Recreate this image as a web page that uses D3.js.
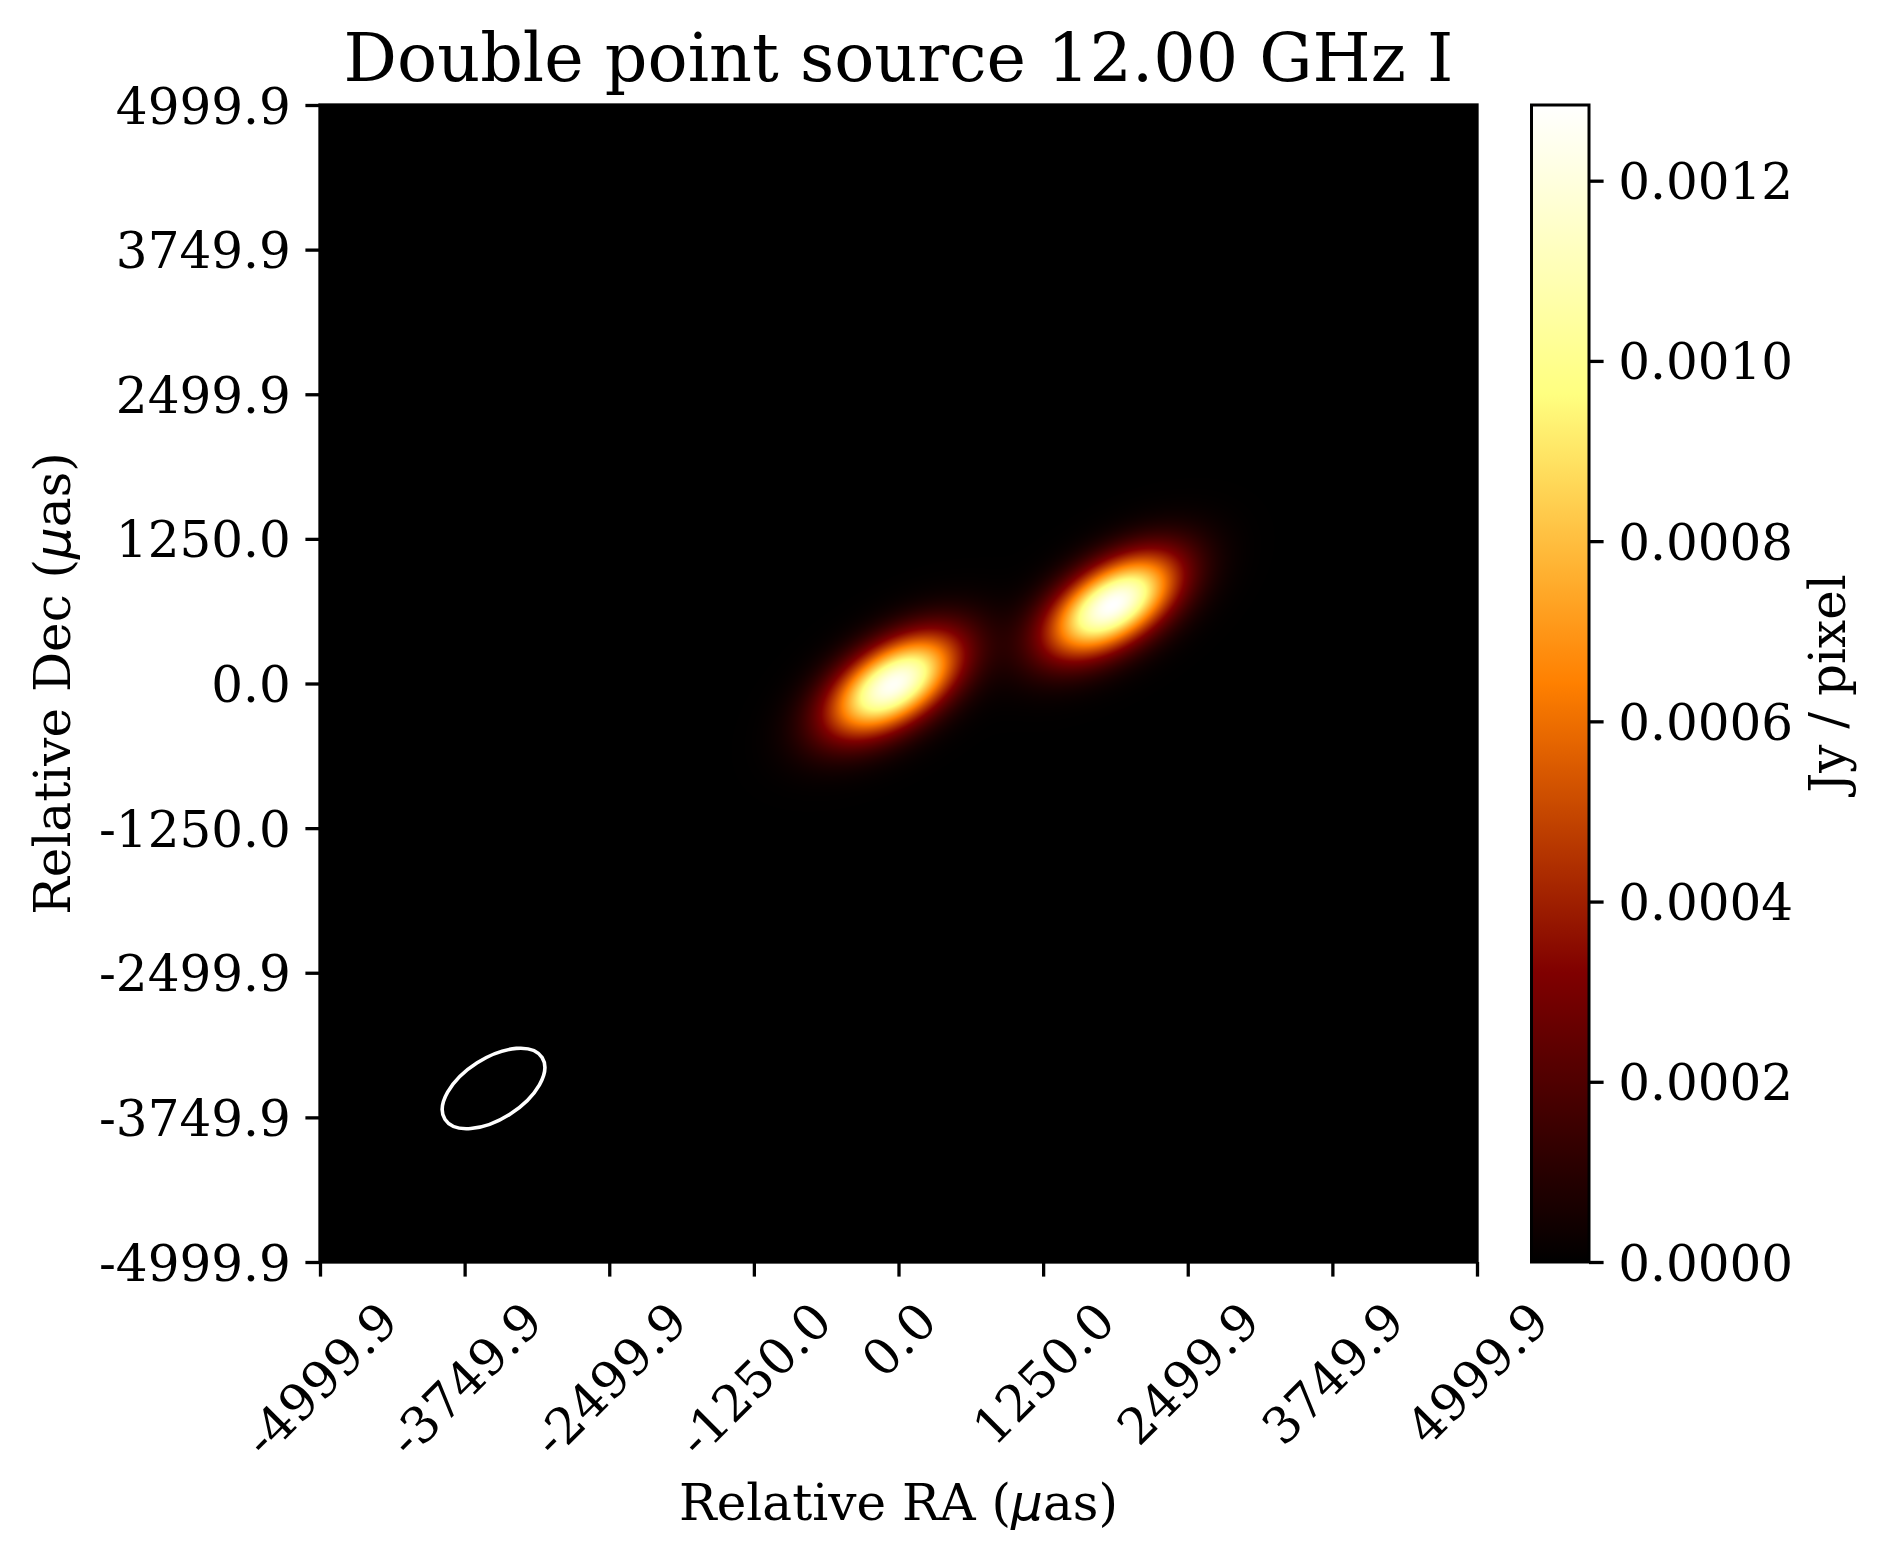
<!DOCTYPE html>
<html>
<head>
<meta charset="utf-8">
<script src="https://cdn.jsdelivr.net/npm/d3@7"></script>
<style>
  body { margin: 0; background: #fff; }
  svg text { font-family: "DejaVu Serif", serif; fill: #000; }
</style>
</head>
<body>
<div id="chart"></div>
<script>
// point components: relative RA / Dec (μas) and peak brightness (Jy/pixel)
const sourceRA = [-45, 1850];
const sourceDec = [-10, 678];
const sourcePeak = [0.001262, 0.001284];

// restoring beam: centre of the drawn ellipse, FWHM axes (μas), angle from RA axis (deg)
const beamCenter = [-3500, -3500];
const beamMajor = 995;
const beamMinor = 527;
const beamAngle = 32.5;

// axis ticks
const axisTicks = [-4999.9, -3749.9, -2499.9, -1250.0, 0.0, 1250.0, 2499.9, 3749.9, 4999.9];
const cbarTicks = [0, 0.0002, 0.0004, 0.0006, 0.0008, 0.0010, 0.0012];
const cbarMax = 0.001284;

const titleText = "Double point source 12.00 GHz I";

// layout (pixels)
const W = 1890, H = 1560;
const plot = { left: 320, top: 105, width: 1157, height: 1157 };
const cbar = { left: 1531.5, width: 57.5 };
const tickLen = 14.6, tickPad = 14.6, tickW = 3.3, fs = 50;

const svg = d3.select("#chart").append("svg")
  .attr("width", W)
  .attr("height", H)
  .style("display", "block");

svg.append("rect").attr("width", W).attr("height", H).attr("fill", "#fff");

const x = d3.scaleLinear()
  .domain([-4999.9, 4999.9])
  .range([plot.left, plot.left + plot.width]);
const y = d3.scaleLinear()
  .domain([-4999.9, 4999.9])
  .range([plot.top + plot.height, plot.top]);

// normalised colour position, afmhot colormap
const cnorm = d3.scaleLinear().domain([0, cbarMax]).range([0, 1]).clamp(true);
function afmhot(t) {
  const c = v => Math.max(0, Math.min(1, v));
  return [c(2 * t), c(2 * t - 0.5), c(2 * t - 1)];
}
const afmhotCss = t => {
  const c = afmhot(t);
  return d3.rgb(c[0] * 255, c[1] * 255, c[2] * 255).formatHex();
};

// beam-convolved brightness at (ra, dec)
const k = 4 * Math.LN2;
const ang = beamAngle * Math.PI / 180;
const ca = Math.cos(ang), sa = Math.sin(ang);
function brightness(ra, dec) {
  let s = 0;
  for (let i = 0; i < sourceRA.length; i++) {
    const dx = ra - sourceRA[i], dy = dec - sourceDec[i];
    const u = dx * ca + dy * sa;
    const v = -dx * sa + dy * ca;
    s += sourcePeak[i] * Math.exp(-k * (u * u / (beamMajor * beamMajor) + v * v / (beamMinor * beamMinor)));
  }
  return s;
}

// raster image
const canvas = document.createElement("canvas");
canvas.width = plot.width;
canvas.height = plot.height;
const ctx = canvas.getContext("2d");
const img = ctx.createImageData(plot.width, plot.height);
for (let j = 0; j < plot.height; j++) {
  const dec = y.invert(plot.top + j + 0.5);
  for (let i = 0; i < plot.width; i++) {
    const ra = x.invert(plot.left + i + 0.5);
    const c = afmhot(cnorm(brightness(ra, dec)));
    const p = (j * plot.width + i) * 4;
    img.data[p] = Math.round(c[0] * 255);
    img.data[p + 1] = Math.round(c[1] * 255);
    img.data[p + 2] = Math.round(c[2] * 255);
    img.data[p + 3] = 255;
  }
}
ctx.putImageData(img, 0, 0);

svg.append("image")
  .attr("x", plot.left)
  .attr("y", plot.top)
  .attr("width", plot.width)
  .attr("height", plot.height)
  .attr("preserveAspectRatio", "none")
  .attr("href", canvas.toDataURL());

// beam ellipse
const bx = x(beamCenter[0]), by = y(beamCenter[1]);
svg.append("ellipse")
  .attr("cx", bx)
  .attr("cy", by)
  .attr("rx", (x(beamMajor / 2) - x(0)))
  .attr("ry", (y(0) - y(beamMinor / 2)))
  .attr("transform", "rotate(" + (-beamAngle) + "," + bx + "," + by + ")")
  .attr("fill", "none")
  .attr("stroke", "#fff")
  .attr("stroke-width", 3.6);

// frame
svg.append("rect")
  .attr("x", plot.left).attr("y", plot.top)
  .attr("width", plot.width).attr("height", plot.height)
  .attr("fill", "none").attr("stroke", "#000").attr("stroke-width", tickW);

const fmt = d => d.toFixed(1);

// y axis
const yAxis = svg.append("g")
  .attr("transform", "translate(" + plot.left + ",0)")
  .call(d3.axisLeft(y).tickValues(axisTicks).tickFormat(fmt).tickSize(tickLen).tickPadding(tickPad));
yAxis.select(".domain").remove();
yAxis.selectAll(".tick line").attr("stroke", "#000").attr("stroke-width", tickW);
yAxis.selectAll(".tick text")
  .style("font-size", fs + "px")
  .attr("font-family", null)
  .attr("dy", "0.36em");

// x axis
const xAxis = svg.append("g")
  .attr("transform", "translate(0," + (plot.top + plot.height) + ")")
  .call(d3.axisBottom(x).tickValues(axisTicks).tickFormat(fmt).tickSize(tickLen).tickPadding(tickPad));
xAxis.select(".domain").remove();
xAxis.selectAll(".tick line").attr("stroke", "#000").attr("stroke-width", tickW);
xAxis.selectAll(".tick text")
  .style("font-size", fs + "px")
  .attr("font-family", null)
  .attr("text-anchor", "middle")
  .each(function () {
    const t = d3.select(this);
    const L = this.getComputedTextLength();
    const hBox = 1.16 * fs;
    const yc = tickLen + tickPad + (L + hBox) / (2 * Math.SQRT2);
    t.attr("x", 0).attr("y", yc).attr("dy", "0.35em")
      .attr("transform", "rotate(-45,0," + yc + ")");
  });

// axis labels
const xl = svg.append("text")
  .attr("x", plot.left + plot.width / 2)
  .attr("y", 1520)
  .attr("text-anchor", "middle")
  .style("font-size", fs + "px")
  .text("Relative RA (");
xl.append("tspan").style("font-family", "'DejaVu Sans', sans-serif").style("font-style", "italic").text("μ");
xl.append("tspan").text("as)");

const yl = svg.append("text")
  .attr("transform", "translate(70," + (plot.top + plot.height / 2) + ") rotate(-90)")
  .attr("text-anchor", "middle")
  .style("font-size", fs + "px")
  .text("Relative Dec (");
yl.append("tspan").style("font-family", "'DejaVu Sans', sans-serif").style("font-style", "italic").text("μ");
yl.append("tspan").text("as)");

// title
svg.append("text")
  .attr("x", plot.left + plot.width / 2)
  .attr("y", 81)
  .attr("text-anchor", "middle")
  .style("font-size", "66.7px")
  .text(titleText);

// colorbar
const cy = d3.scaleLinear().domain([0, cbarMax]).range([plot.top + plot.height, plot.top]);
const grad = svg.append("defs").append("linearGradient")
  .attr("id", "cbgrad")
  .attr("x1", 0).attr("y1", 1).attr("x2", 0).attr("y2", 0);
d3.range(0, 1.0001, 0.025).forEach(t => {
  grad.append("stop").attr("offset", t).attr("stop-color", afmhotCss(t));
});
svg.append("rect")
  .attr("x", cbar.left).attr("y", plot.top)
  .attr("width", cbar.width).attr("height", plot.height)
  .attr("fill", "url(#cbgrad)")
  .attr("stroke", "#000").attr("stroke-width", 3);

const cAxis = svg.append("g")
  .attr("transform", "translate(" + (cbar.left + cbar.width) + ",0)")
  .call(d3.axisRight(cy).tickValues(cbarTicks).tickFormat(d3.format(".4f")).tickSize(tickLen).tickPadding(tickPad));
cAxis.select(".domain").remove();
cAxis.selectAll(".tick line").attr("stroke", "#000").attr("stroke-width", tickW);
cAxis.selectAll(".tick text")
  .style("font-size", fs + "px")
  .attr("font-family", null)
  .attr("dy", "0.36em");

svg.append("text")
  .attr("transform", "translate(1845," + (plot.top + plot.height / 2) + ") rotate(-90)")
  .attr("text-anchor", "middle")
  .style("font-size", fs + "px")
  .text("Jy / pixel");
</script>
</body>
</html>
